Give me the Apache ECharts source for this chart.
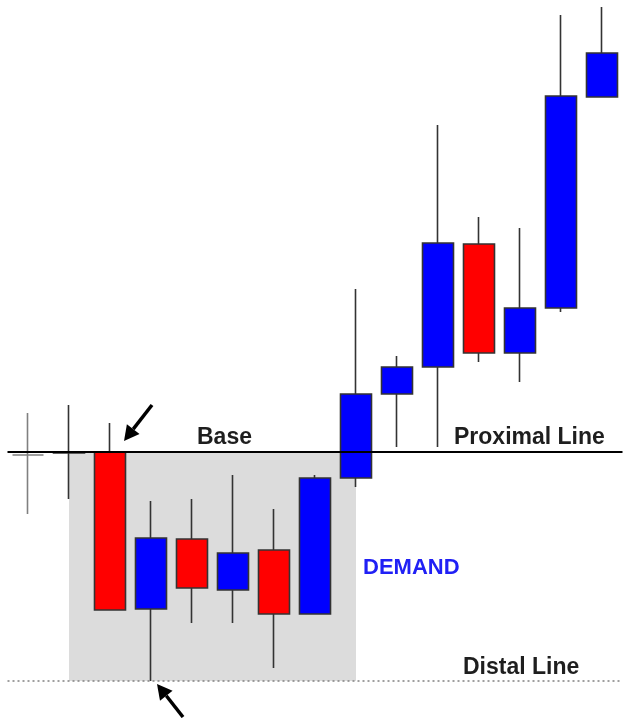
<!DOCTYPE html>
<html>
<head>
<meta charset="utf-8">
<script src="https://cdn.jsdelivr.net/npm/echarts@6/dist/echarts.min.js"></script>
<style>
html,body{margin:0;padding:0;background:#fff;}
#chart{width:623px;height:718px;}
</style>
</head>
<body>
<div id="chart"></div>
<script>
// ---- data ----
var categories = ['1','2','3','4','5','6','7','8','9','10','11','12','13','14','15'];
var opens  = [26.3, 26.5, 26.6, 10.9, 17.9, 12.8, 16.8, 10.4, 24.0, 32.4, 35.1, 47.4, 36.5, 41.0, 62.1];
var closes = [26.3, 26.6, 10.8, 18.0, 13.0, 16.5, 10.4, 24.0, 32.4, 35.1, 47.5, 36.5, 41.0, 62.2, 66.5];
var lows   = [20.4, 21.9, 10.8,  3.7,  9.5,  9.5,  5.0, 10.4, 23.1, 27.1, 27.1, 35.6, 33.6, 40.6, 62.1];
var highs  = [30.5, 31.3, 29.5, 21.7, 21.9, 24.3, 20.9, 24.3, 42.9, 36.2, 59.3, 50.1, 49.0, 70.3, 71.1];
var proximalLevel = 26.6;
var distalLevel = 3.7;
var zoneStart = 1, zoneEnd = 8;   // category indices of demand zone
var labels = {base: 'Base', proximal: 'Proximal Line', demand: 'DEMAND', distal: 'Distal Line'};

var candleData = categories.map(function (c, i) {
  var item = {value: [opens[i], closes[i], lows[i], highs[i]]};
  if (opens[i] === closes[i]) {
    item.itemStyle = {color: '#808080', borderColor: '#808080', color0: '#808080', borderColor0: '#808080'};
  }
  return item;
});

var chart = echarts.init(document.getElementById('chart'), null, {renderer: 'canvas'});

function arrow(tip, tail) {
  var dx = tail[0] - tip[0], dy = tail[1] - tip[1];
  var len = Math.sqrt(dx * dx + dy * dy);
  var ux = dx / len, uy = dy / len;
  var hl = 15, hw = 8;
  var bx = tip[0] + ux * hl, by = tip[1] + uy * hl;
  return [
    {type: 'line', shape: {x1: bx, y1: by, x2: tail[0], y2: tail[1]}, style: {stroke: '#000', lineWidth: 3.5}},
    {type: 'polygon', shape: {points: [[tip[0], tip[1]], [bx - uy * hw, by + ux * hw], [bx + uy * hw, by - ux * hw]]}, style: {fill: '#000'}}
  ];
}

var font = 'bold 23px "Liberation Sans", Arial, sans-serif';
var graphics = [
  {type: 'text', left: 197, top: 426, style: {text: labels.base, font: font, fill: '#1e1e1e'}},
  {type: 'text', left: 454, top: 426, style: {text: labels.proximal, font: font, fill: '#1e1e1e'}},
  {type: 'text', left: 363, top: 557, style: {text: labels.demand, font: 'bold 22px "Liberation Sans", Arial, sans-serif', fill: '#2020f5'}},
  {type: 'text', left: 463, top: 656, style: {text: labels.distal, font: font, fill: '#1e1e1e'}}
].concat(arrow([124, 441], [152, 405])).concat(arrow([157, 684], [183, 717]));

chart.setOption({
  animation: false,
  backgroundColor: '#ffffff',
  grid: {left: 7.5, right: 0.5, top: 0, bottom: 0},
  xAxis: {type: 'category', data: categories, show: false, boundaryGap: true},
  yAxis: {type: 'value', min: 0, max: 71.8, show: false, splitLine: {show: false}},
  series: [
    {
      type: 'line', data: [], z: 1, silent: true,
      markArea: {
        silent: true,
        itemStyle: {color: '#dcdcdc'},
        data: [[{xAxis: zoneStart, yAxis: proximalLevel}, {xAxis: zoneEnd, yAxis: distalLevel}]]
      }
    },
    {
      type: 'candlestick', z: 2,
      barWidth: 31,
      data: candleData,
      itemStyle: {
        color: '#0000ff', color0: '#ff0000',
        borderColor: '#333333', borderColor0: '#333333',
        borderWidth: 1.6
      }
    },
    {
      type: 'line', data: [], z: 5, silent: true,
      markLine: {
        silent: true, symbol: ['none', 'none'],
        label: {show: false},
        data: [
          {yAxis: proximalLevel, lineStyle: {color: '#000', width: 2, type: 'solid'}},
          {yAxis: distalLevel, lineStyle: {color: '#808080', width: 1.5, type: [2, 3]}}
        ]
      }
    }
  ],
  graphic: graphics
});
</script>
</body>
</html>
